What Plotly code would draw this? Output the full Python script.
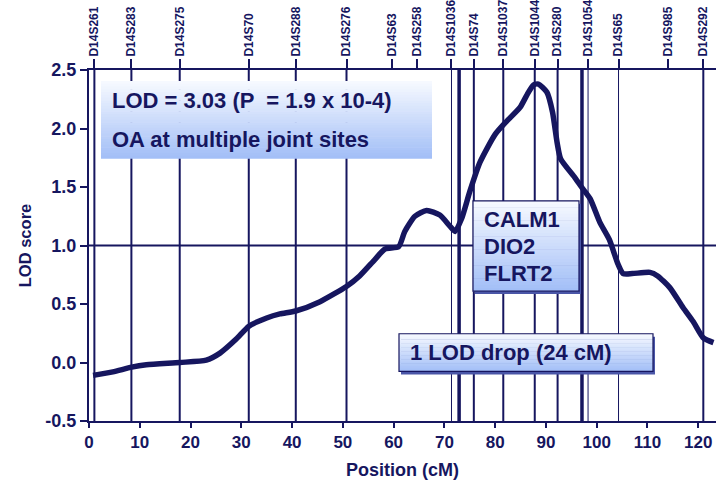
import plotly.graph_objects as go

# LOD score profile along chromosome 14
pos_cm = [0.8, 4.7, 8.4, 11.3, 17.9, 23.1, 25.8, 29.0, 31.5, 35.0, 37.6, 40.7,
          45.5, 50.7, 53.3, 56.3, 58.3, 61.0, 62.2, 64.2, 66.5, 69.1, 71.0, 72.1,
          73.4, 75.0, 77.0, 80.0, 82.0, 84.9, 86.3, 87.5, 88.5, 90.2, 91.3, 92.2,
          92.9, 95.7, 97.0, 98.7, 100.6, 102.5, 104.2, 105.2, 107.0, 110.5, 112.0,
          114.4, 117.0, 119.0, 121.0, 123.0]
lod = [-0.11, -0.08, -0.04, -0.02, 0.0, 0.02, 0.08, 0.20, 0.31, 0.38, 0.415, 0.44,
       0.52, 0.65, 0.74, 0.88, 0.97, 0.99, 1.12, 1.25, 1.30, 1.26, 1.17, 1.12,
       1.23, 1.46, 1.71, 1.95, 2.05, 2.18, 2.29, 2.37, 2.38, 2.31, 2.14, 1.88,
       1.74, 1.58, 1.50, 1.40, 1.20, 1.05, 0.84, 0.76, 0.76, 0.77, 0.74,
       0.64, 0.47, 0.35, 0.21, 0.17]

# Marker map (top axis)
marker_names = ["D14S261", "D14S283", "D14S275", "D14S70", "D14S288", "D14S276",
                "D14S63", "D14S258", "D14S1036", "D14S74", "D14S1037", "D14S1044",
                "D14S280", "D14S1054", "D14S65", "D14S985", "D14S292"]
marker_cm = [1.06, 8.35, 17.87, 31.47, 40.73, 50.72,
             59.65, 64.6, 71.4, 75.8, 81.6, 87.8,
             92.3, 98.3, 104.3, 114.0, 121.0]

# Genotyped marker lines drawn through the plot, with their stroke widths
line_cm = [1.06, 8.35, 17.87, 31.47, 40.73, 50.72, 71.4, 72.9, 75.8, 81.6,
           87.8, 92.3, 97.1, 98.3, 104.3, 121.0]
line_w = [2, 2, 2, 2, 2, 2, 1, 3.5, 2, 2, 2, 2, 3.5, 1, 1, 2]

x_ticks = list(range(0, 121, 10))
y_ticks = [-0.5, 0.0, 0.5, 1.0, 1.5, 2.0, 2.5]
y_ticktext = ["-0.5", "0.0", "0.5", "1.0", "1.5", "2.0", "2.5"]
threshold = 1.0

NAVY = "#16165f"
FONT = "Liberation Sans, Arial, sans-serif"

W, H = 716, 486
L, R, T, B = 89, 0, 67, 65
PW, PH = W - L - R, H - T - B


def px(xp):
    return (xp - L) / PW


def py(yp):
    return (H - B - yp) / PH


fig = go.Figure()
fig.add_trace(go.Scatter(x=pos_cm, y=lod, mode="lines",
                         line=dict(color=NAVY, width=5.5, shape="spline", smoothing=0.6),
                         showlegend=False, hoverinfo="skip"))
# invisible trace anchoring the top marker axis
fig.add_trace(go.Scatter(x=[marker_cm[0]], y=[lod[0]], xaxis="x2", mode="markers",
                         marker=dict(opacity=0), showlegend=False, hoverinfo="skip"))

shapes = []
for c, w in zip(line_cm, line_w):
    shapes.append(dict(type="line", xref="x", yref="paper", x0=c, x1=c, y0=0, y1=1,
                       line=dict(color=NAVY, width=w), layer="below"))
shapes.append(dict(type="line", xref="paper", yref="y", x0=0, x1=1, y0=threshold,
                   y1=threshold, line=dict(color=NAVY, width=2), layer="below"))


def grad_box(x0, y0, x1, y1, border=True, n=28):
    top = (246, 249, 255)
    bot = (163, 191, 247)
    out = []
    if border:
        out.append(dict(type="rect", xref="paper", yref="paper",
                        x0=px(x0 + 2), x1=px(x1 + 2), y0=py(y1 + 3), y1=py(y0 + 3),
                        fillcolor="#4a56a8", line=dict(width=0)))
    for i in range(n):
        t = i / (n - 1)
        col = tuple(round(top[k] + (bot[k] - top[k]) * t) for k in range(3))
        ya = y0 + (y1 - y0) * i / n
        yb = y0 + (y1 - y0) * (i + 1) / n
        out.append(dict(type="rect", xref="paper", yref="paper",
                        x0=px(x0), x1=px(x1), y0=py(yb + 0.5), y1=py(ya),
                        fillcolor="rgb(%d,%d,%d)" % col, line=dict(width=0)))
    if border:
        out.append(dict(type="rect", xref="paper", yref="paper",
                        x0=px(x0), x1=px(x1), y0=py(y1), y1=py(y0),
                        fillcolor="rgba(0,0,0,0)", line=dict(color=NAVY, width=1.2)))
    return out


shapes += grad_box(101, 78, 432, 156, border=False)
shapes += grad_box(473, 199, 579, 290)
shapes += grad_box(399, 333, 653, 371)

box_font = dict(family=FONT, size=22, color=NAVY, weight="bold")
notes = [
    ("LOD = 3.03 (P  = 1.9 x 10-4)", 110, 98),
    ("OA at multiple joint sites", 110, 137),
    ("CALM1", 482, 218),
    ("DIO2", 482, 245),
    ("FLRT2", 482, 272),
    ("1 LOD drop (24 cM)", 408, 352),
]
annotations = [dict(text=t, xref="paper", yref="paper", x=px(xx), y=py(yy),
                    xanchor="left", yanchor="middle", showarrow=False, font=box_font)
               for t, xx, yy in notes]

xtick_font = dict(family=FONT, size=17, color=NAVY, weight="bold")
ytick_font = dict(family=FONT, size=18, color=NAVY, weight="bold")
fig.update_layout(
    width=W, height=H,
    margin=dict(l=L, r=R, t=T, b=B, pad=0),
    paper_bgcolor="white", plot_bgcolor="white",
    shapes=shapes, annotations=annotations,
    xaxis=dict(range=[0, 123.5], tickvals=x_ticks, ticks="outside", ticklen=5,
               tickwidth=2, tickcolor=NAVY, showline=True, linewidth=2, linecolor=NAVY,
               showgrid=False, zeroline=False, tickfont=xtick_font,
               title=dict(text="Position (cM)", standoff=12,
                          font=dict(family=FONT, size=18, color=NAVY, weight="bold"))),
    xaxis2=dict(range=[0, 123.5], overlaying="x", side="top", anchor="y",
                tickvals=marker_cm, ticktext=marker_names, tickangle=-90,
                ticks="outside", ticklen=9, tickwidth=1.5, tickcolor=NAVY,
                showline=True, linewidth=2, linecolor=NAVY, showgrid=False,
                zeroline=False,
                tickfont=dict(family=FONT, size=12, color=NAVY, weight="bold")),
    yaxis=dict(range=[-0.5, 2.5], tickvals=y_ticks, ticktext=y_ticktext,
               ticks="outside", ticklen=7, tickwidth=2, tickcolor=NAVY,
               showline=True, linewidth=2, linecolor=NAVY, showgrid=False,
               zeroline=False, tickfont=ytick_font,
               title=dict(text="LOD score", standoff=10,
                          font=dict(family=FONT, size=16.5, color=NAVY, weight="bold"))),
)

fig.write_html("out.html")
